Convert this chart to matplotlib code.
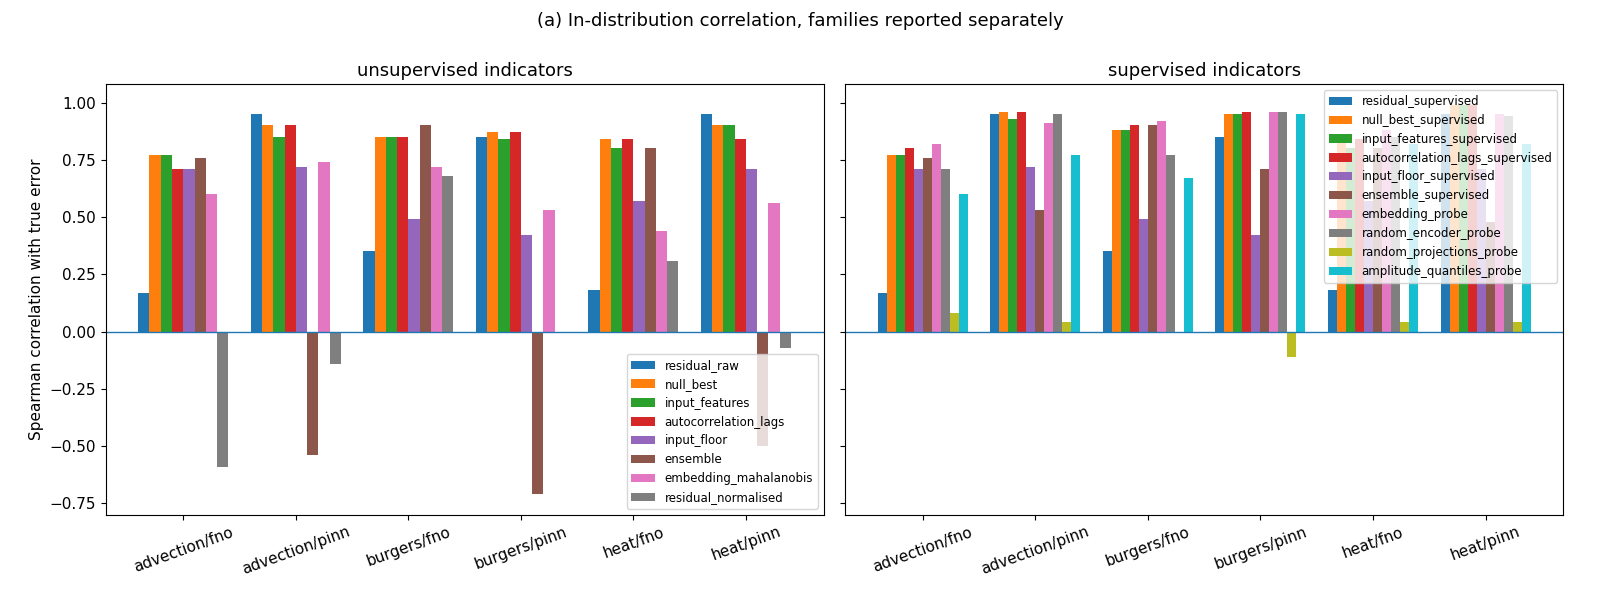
import numpy as np
import matplotlib.pyplot as plt

groups = ["advection/fno", "advection/pinn", "burgers/fno", "burgers/pinn", "heat/fno", "heat/pinn"]

unsup_names = ["residual_raw", "null_best", "input_features", "autocorrelation_lags",
               "input_floor", "ensemble", "embedding_mahalanobis", "residual_normalised"]
unsup_vals = [
    [0.17, 0.95, 0.35, 0.85, 0.18, 0.95],
    [0.77, 0.90, 0.85, 0.87, 0.84, 0.90],
    [0.77, 0.85, 0.85, 0.84, 0.80, 0.90],
    [0.71, 0.90, 0.85, 0.87, 0.84, 0.84],
    [0.71, 0.72, 0.49, 0.42, 0.57, 0.71],
    [0.76, -0.54, 0.90, -0.71, 0.80, -0.50],
    [0.60, 0.74, 0.72, 0.53, 0.44, 0.56],
    [-0.59, -0.14, 0.68, 0.0, 0.31, -0.07],
]

sup_names = ["residual_supervised", "null_best_supervised", "input_features_supervised",
             "autocorrelation_lags_supervised", "input_floor_supervised", "ensemble_supervised",
             "embedding_probe", "random_encoder_probe", "random_projections_probe",
             "amplitude_quantiles_probe"]
sup_vals = [
    [0.17, 0.95, 0.35, 0.85, 0.18, 0.95],
    [0.77, 0.96, 0.88, 0.95, 0.84, 0.99],
    [0.77, 0.93, 0.88, 0.95, 0.80, 0.99],
    [0.80, 0.96, 0.90, 0.96, 0.84, 0.99],
    [0.71, 0.72, 0.49, 0.42, 0.57, 0.71],
    [0.76, 0.53, 0.90, 0.71, 0.80, 0.48],
    [0.82, 0.91, 0.92, 0.96, 0.88, 0.95],
    [0.71, 0.95, 0.77, 0.96, 0.85, 0.94],
    [0.08, 0.04, 0.0, -0.11, 0.04, 0.04],
    [0.60, 0.77, 0.67, 0.95, 0.82, 0.82],
]


def draw(ax, names, vals, title, loc):
    x = np.arange(len(groups))
    w = 0.8 / len(names)
    for i, (n, v) in enumerate(zip(names, vals)):
        ax.bar(x - 0.4 + w * (i + 0.5), v, w, label=n)
    ax.axhline(0, lw=1)
    ax.set_xticks(x)
    ax.set_xticklabels(groups, rotation=20)
    ax.set_title(title, fontsize=13)
    ax.legend(loc=loc, fontsize=8.5)


fig, axes = plt.subplots(1, 2, figsize=(16, 6.15), sharey=True)
draw(axes[0], unsup_names, unsup_vals, "unsupervised indicators", "lower right")
draw(axes[1], sup_names, sup_vals, "supervised indicators", "upper right")
axes[0].set_ylabel("Spearman correlation with true error", fontsize=11)
axes[0].set_ylim(-0.8, 1.08)
for ax in axes:
    ax.tick_params(labelsize=11)
fig.suptitle("(a) In-distribution correlation, families reported separately", fontsize=13)
plt.subplots_adjust(left=0.066, right=0.977, top=0.863, bottom=0.163, wspace=0.03)
plt.savefig("out.png", dpi=100)
